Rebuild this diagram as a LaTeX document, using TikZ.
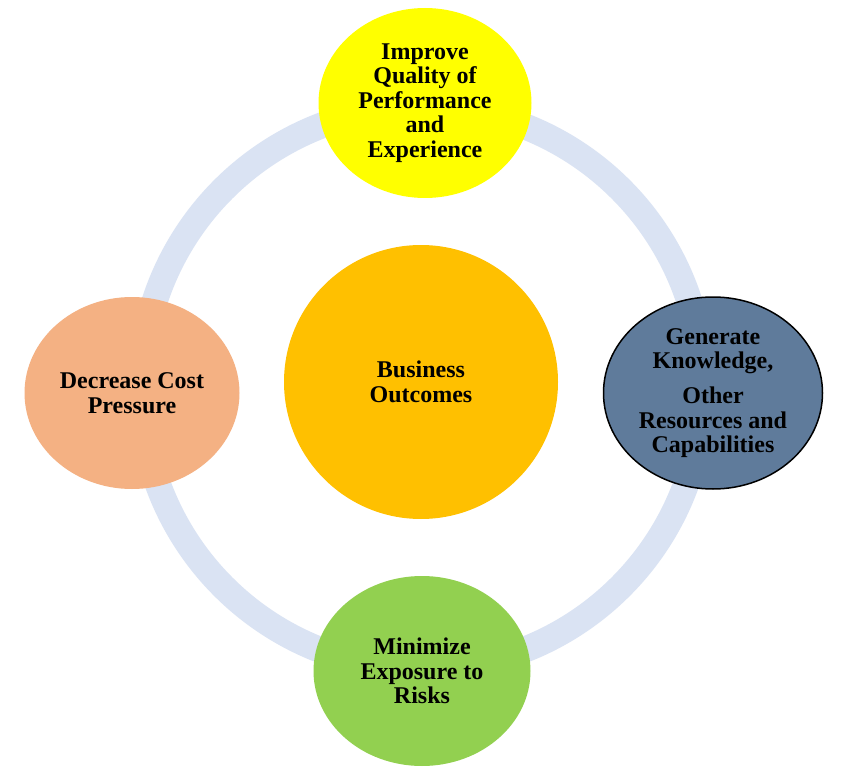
\documentclass[tikz,border=0pt]{standalone}
\usepackage{fontspec}
\setmainfont{Liberation Serif}
\usetikzlibrary{shapes.geometric}
\definecolor{ringblue}{HTML}{DAE3F3}
\definecolor{topyellow}{HTML}{FFFF00}
\definecolor{midorange}{HTML}{FFC000}
\definecolor{leftsalmon}{HTML}{F4B183}
\definecolor{rightslate}{HTML}{5F7B9B}
\definecolor{botgreen}{HTML}{92D050}
\tikzset{
  oval/.style={ellipse, inner sep=0pt, align=center,
    font=\bfseries\fontsize{24}{24.5}\selectfont, text=black},
}
\begin{document}
\begin{tikzpicture}[x=1pt,y=-1pt]
\useasboundingbox (0,0) rectangle (844,781);
\fill[white] (0,0) rectangle (844,781);
% ring
\draw[ringblue, line width=26pt] (422,388) circle[radius=281];
% center
\node[oval, fill=midorange, minimum width=274pt, minimum height=274pt] (center) at (421,382) {Business\\Outcomes};
% top
\node[oval, fill=topyellow, minimum width=213pt, minimum height=190pt] (top) at (425,103) {Improve\\Quality of\\Performance\\and\\Experience};
% left
\node[oval, fill=leftsalmon, minimum width=215pt, minimum height=192pt] (left) at (132,393) {Decrease Cost\\Pressure};
% right
\node[oval, fill=rightslate, draw=black, line width=1.5pt, minimum width=219pt, minimum height=192pt] (right) at (713,393) {Generate\\Knowledge,\\[10.5pt]Other\\Resources and\\Capabilities};
% bottom
\node[oval, fill=botgreen, minimum width=217pt, minimum height=190pt] (bottom) at (422,671) {Minimize\\Exposure to\\Risks};
\end{tikzpicture}
\end{document}
